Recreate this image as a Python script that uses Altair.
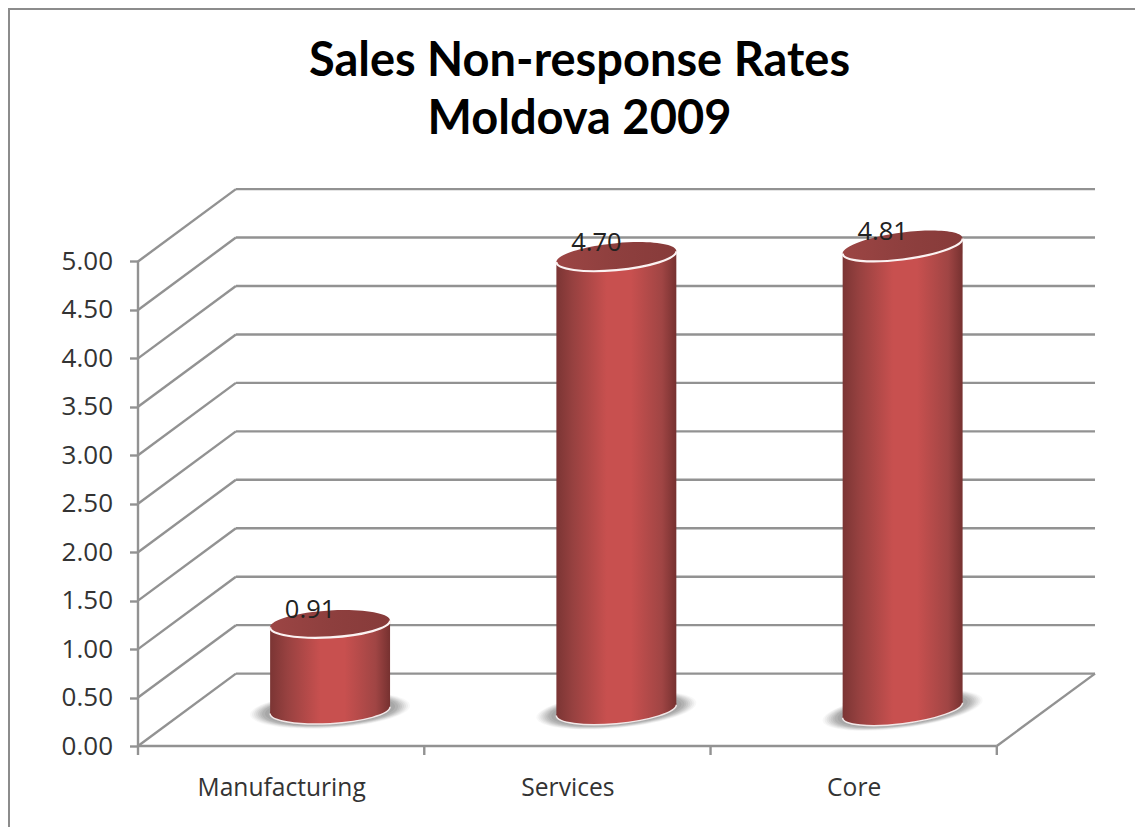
import altair as alt
import pandas as pd

categories = ["Manufacturing", "Services", "Core"]
values = [0.91, 4.70, 4.81]
label_texts = ["0.91", "4.70", "4.81"]
grid_levels = [0, .5, 1, 1.5, 2, 2.5, 3, 3.5, 4, 4.5, 5]
category_ticks = [0, 1, 2, 3]
title_lines = ["Sales Non-response Rates", "Moldova 2009"]

# Projection of the oblique 3D look, in data units
DEPTH_X, DEPTH_Y = 0.342, 0.747
X_MAX, Y_MAX = 3.343, 5.748
W, H = 957, 557
PL, PT = 130, 181
BAR_HALF = 0.2095
TOP_BASE, BOTTOM_BASE = 0.35, 0.37
# Tilt of each cylinder's ellipses (fraction of half width)
shears = [0.055, 0.09, 0.125]
K = 0.225
GRID = "#929292"
GW = 2.4


def ellipse(s, k, lower_only=False):
    c = 0.5523
    lower = f"M-1,{s:.3f}C-1,{s+c*k:.3f},{-c:.3f},{k+c*s:.3f},0,{k:.3f}C{c:.3f},{k-c*s:.3f},1,{-s+c*k:.3f},1,{-s:.3f}"
    if lower_only:
        return lower
    upper = f"C1,{-s-c*k:.3f},{c:.3f},{-k-c*s:.3f},0,{-k:.3f}C{-c:.3f},{-k+c*s:.3f},-1,{s-c*k:.3f},-1,{s:.3f}Z"
    return lower + upper


x_scale = alt.Scale(domain=[0, X_MAX], nice=False, zero=False)
y_scale = alt.Scale(domain=[0, Y_MAX], nice=False, zero=False)

centers = pd.DataFrame({
    "cat": categories,
    "label": label_texts,
    "cx": [i + 0.5 + DEPTH_X / 2 for i in range(len(categories))],
    "top": [v + TOP_BASE for v in values],
    "bottom": [BOTTOM_BASE] * len(categories),
})

body_rows = []
for i, c in enumerate(categories):
    dy = shears[i] * 60 / 97
    cx = i + 0.5 + DEPTH_X / 2
    body_rows.append({"cat": c, "x": cx - BAR_HALF, "y": values[i] + TOP_BASE - dy, "y2": BOTTOM_BASE - dy})
    body_rows.append({"cat": c, "x": cx + BAR_HALF, "y": values[i] + TOP_BASE + dy, "y2": BOTTOM_BASE + dy})
body = pd.DataFrame(body_rows)


def X(f):
    return alt.X(f, scale=x_scale, axis=None)


def Y(f):
    return alt.Y(f, scale=y_scale, axis=None, stack=None)


body_grad = alt.LinearGradient(gradient="linear", x1=0, y1=0, x2=1, y2=0, stops=[
    alt.GradientStop(offset=0, color="#7b3534"),
    alt.GradientStop(offset=0.14, color="#974140"),
    alt.GradientStop(offset=0.42, color="#c8504f"),
    alt.GradientStop(offset=0.62, color="#c8504f"),
    alt.GradientStop(offset=0.88, color="#a04544"),
    alt.GradientStop(offset=1, color="#763130"),
])
top_grad = alt.LinearGradient(gradient="linear", x1=0, y1=0, x2=1, y2=0, stops=[
    alt.GradientStop(offset=0, color="#9c4544"),
    alt.GradientStop(offset=0.5, color="#8e3f3e"),
    alt.GradientStop(offset=1, color="#873b3a"),
])


def shape(paths):
    return alt.Shape("cat:N", scale=alt.Scale(domain=categories, range=paths), legend=None)


full_shape = shape([ellipse(s, K) for s in shears])
lower_shape = shape([ellipse(s, K, True) for s in shears])

# Walls and floor
back = pd.DataFrame({"y": [v + DEPTH_Y for v in grid_levels], "x": DEPTH_X, "x2": X_MAX})
back_lines = alt.Chart(back).mark_rule(color=GRID, strokeWidth=GW).encode(X("x:Q"), x2="x2:Q", y=Y("y:Q"))
side = pd.DataFrame({"y": grid_levels, "y2": [v + DEPTH_Y for v in grid_levels], "x": 0.0, "x2": DEPTH_X})
side_lines = alt.Chart(side).mark_rule(color=GRID, strokeWidth=GW).encode(X("x:Q"), x2="x2:Q", y=Y("y:Q"), y2="y2:Q")
floor_edge = alt.Chart(pd.DataFrame({"x": [3.0], "x2": [X_MAX], "y": [0.0], "y2": [DEPTH_Y]})).mark_rule(
    color=GRID, strokeWidth=GW).encode(X("x:Q"), x2="x2:Q", y=Y("y:Q"), y2="y2:Q")
front_floor = alt.Chart(pd.DataFrame({"x": [0.0], "x2": [3.0], "y": [0.0]})).mark_rule(
    color=GRID, strokeWidth=GW).encode(X("x:Q"), x2="x2:Q", y=Y("y:Q"))
y_line = alt.Chart(pd.DataFrame({"x": [0.0], "y": [0.0], "y2": [5.0]})).mark_rule(
    color=GRID, strokeWidth=GW).encode(X("x:Q"), y=Y("y:Q"), y2="y2:Q")
x_ticks = alt.Chart(pd.DataFrame({"x": category_ticks})).mark_rule(color=GRID, strokeWidth=GW).encode(
    X("x:Q"), y=alt.value(H), y2=alt.value(H + 9))

# Axes (labels and y ticks)
label_expr = " : ".join(
    [f"datum.value < {i + 1} ? '{c}'" for i, c in enumerate(categories[:-1])] + [f"'{categories[-1]}'"])
axes = alt.Chart(pd.DataFrame({"x": [0.5, 1.5, 2.5], "y": [0.0, 0.0, 0.0]})).mark_point(opacity=0).encode(
    x=alt.X("x:Q", scale=x_scale, title=None, axis=alt.Axis(
        values=[0.5, 1.5, 2.5], labelExpr=label_expr, domain=False, ticks=False, grid=False,
        labelFont="Open Sans", labelFontSize=24.6, labelColor="#333333", labelPadding=30)),
    y=alt.Y("y:Q", scale=y_scale, title=None, axis=alt.Axis(
        values=grid_levels, format=".2f", domain=False, grid=False, tickColor=GRID, tickWidth=GW, tickSize=8.5,
        labelFont="Open Sans", labelFontSize=26, labelColor="#333333", labelPadding=17)),
)

# Shadows: stacked translucent ellipses give the soft edge
shadow_layers = []
for half, op in [(80, 0.06), (78, 0.08), (76, 0.1), (74, 0.12), (72, 0.14), (70, 0.16), (68, 0.18), (65, 0.22)]:
    shadow_layers.append(
        alt.Chart(centers).mark_point(filled=True, fill="#808080", opacity=op, size=(2 * half) ** 2).encode(
            X("cx:Q"), Y("bottom:Q"), shape=full_shape))

bottom_cap = alt.Chart(centers).mark_point(filled=True, fill=body_grad, opacity=1, size=14400).encode(
    X("cx:Q"), Y("bottom:Q"), shape=full_shape)
bottom_edge = alt.Chart(centers).mark_point(filled=False, stroke="#f2e8e8", strokeWidth=1.5, opacity=1, size=14400).encode(
    X("cx:Q"), Y("bottom:Q"), shape=lower_shape)
cyl = alt.Chart(body).mark_area(fill=body_grad, orient="vertical", opacity=1).encode(
    X("x:Q"), Y("y:Q"), y2="y2:Q", detail="cat:N")
top_cap = alt.Chart(centers).mark_point(filled=True, fill=top_grad, opacity=1, size=14400).encode(
    X("cx:Q"), Y("top:Q"), shape=full_shape)
top_edge = alt.Chart(centers).mark_point(filled=False, stroke="#fbf2f2", strokeWidth=2.2, opacity=1, size=14400).encode(
    X("cx:Q"), Y("top:Q"), shape=lower_shape)
labels = alt.Chart(centers).mark_text(font="Open Sans", fontSize=25.5, color="#222222", dx=-20, dy=-14).encode(
    X("cx:Q"), Y("top:Q"), text="label:N")

# Picture frame (left and top only)
frame_top = alt.Chart(pd.DataFrame({"a": [0]})).mark_rule(color="#8c8c8c", strokeWidth=2).encode(
    x=alt.value(-PL), x2=alt.value(W + 40), y=alt.value(-PT + 1))
frame_left = alt.Chart(pd.DataFrame({"a": [0]})).mark_rule(color="#8c8c8c", strokeWidth=2).encode(
    x=alt.value(-PL + 1), y=alt.value(-PT), y2=alt.value(H + 81))

chart = alt.layer(
    axes, frame_top, frame_left, back_lines, side_lines, floor_edge, front_floor, y_line, x_ticks,
    *shadow_layers, bottom_cap, cyl, bottom_edge, top_cap, top_edge, labels,
).resolve_scale(shape="independent").resolve_axis(x="independent", y="independent").properties(
    width=W, height=H,
    padding={"left": PL, "top": PT, "right": 40, "bottom": 81},
    autosize=alt.AutoSizeParams(type="none"),
    background="white",
    title=alt.TitleParams(text=title_lines, font="Lato", fontWeight="bold", fontSize=47, lineHeight=58,
                          color="#000000", anchor="middle", dx=-37, dy=137, offset=0),
).configure_view(stroke=None)

chart.save("out.html", embed_options={"renderer": "svg", "actions": False})
